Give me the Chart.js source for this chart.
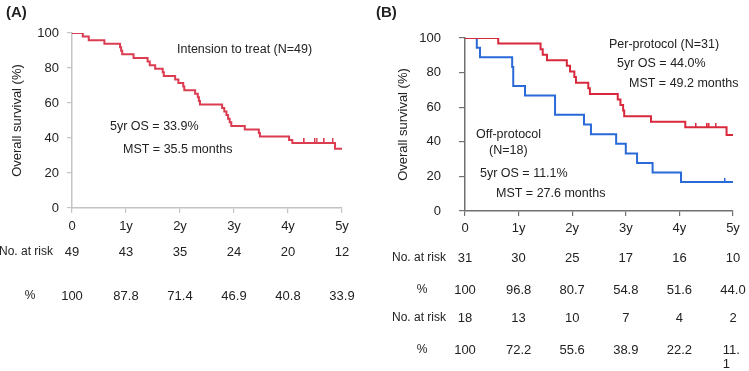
<!DOCTYPE html>
<html>
<head>
<meta charset="utf-8">
<script src="https://cdn.jsdelivr.net/npm/chart.js@4.4.0/dist/chart.umd.min.js"></script>
<style>
  body { margin: 0; background: #fff; }
  canvas { position: absolute; top: 0; }
  #chartA { left: 0; }
  #chartB { left: 370px; }
</style>
</head>
<body>
<canvas id="chartA" width="370" height="371"></canvas>
<canvas id="chartB" width="379" height="371"></canvas>
<script>
const yearLabels = ['0', '1y', '2y', '3y', '4y', '5y'];

// (A) intention to treat, N=49
const ittYears = [0, 0.20, 0.31, 0.60, 0.89, 0.91, 0.93, 1.14, 1.40, 1.44, 1.54, 1.68, 1.70, 1.91, 1.97, 2.06, 2.08, 2.28, 2.33, 2.35, 2.37, 2.78, 2.82, 2.86, 2.89, 2.92, 2.95, 3.20, 3.46, 3.48, 4.02, 4.08, 4.87, 5.0];
const ittSurv = [100, 98.0, 95.9, 93.9, 91.8, 89.8, 87.8, 85.7, 83.7, 81.6, 79.6, 77.6, 75.5, 73.5, 71.4, 69.4, 67.3, 65.3, 63.3, 61.2, 59.2, 57.1, 55.1, 53.1, 51.0, 49.0, 46.9, 44.9, 42.9, 40.8, 38.8, 37.2, 33.9, 33.9];
const ittCensorYears = [4.30, 4.50, 4.53, 4.67, 4.83];
const ittCensorSurv = [37.2, 37.2, 37.2, 37.2, 37.2];
const ittAtRisk = ['49', '43', '35', '24', '20', '12'];
const ittPct = ['100', '87.8', '71.4', '46.9', '40.8', '33.9'];

// (B) per-protocol, N=31
const ppYears = [0, 0.62, 1.41, 1.45, 1.53, 1.90, 1.96, 2.04, 2.07, 2.30, 2.33, 2.85, 2.90, 2.95, 2.97, 3.47, 4.11, 4.88, 5.0];
const ppSurv = [100, 96.8, 93.5, 90.3, 87.1, 83.9, 80.6, 77.4, 74.2, 71.0, 67.7, 64.5, 61.3, 58.1, 54.8, 51.6, 48.4, 44.0, 44.0];
const ppCensorYears = [4.31, 4.52, 4.55, 4.68];
const ppCensorSurv = [48.4, 48.4, 48.4, 48.4];
const ppAtRisk = ['31', '30', '25', '17', '16', '10'];
const ppPct = ['100', '96.8', '80.7', '54.8', '51.6', '44.0'];

// (B) off-protocol, N=18
const offYears = [0, 0.22, 0.28, 0.88, 0.90, 1.12, 1.68, 2.22, 2.35, 2.82, 3.00, 3.21, 3.50, 4.03, 5.0];
const offSurv = [100, 94.4, 88.9, 83.3, 72.2, 66.7, 55.6, 50.0, 44.4, 38.9, 33.3, 27.8, 22.2, 16.7, 16.7];
const offCensorYears = [4.85];
const offCensorSurv = [16.7];
const offAtRisk = ['18', '13', '10', '7', '4', '2'];
const offPct = ['100', '72.2', '55.6', '38.9', '22.2', '11.1'];

const FAMILY = '"Liberation Sans", Arial, sans-serif';
const TEXT = '#222';

function points(xs, ys) {
  return xs.map((x, i) => ({ x: x, y: ys[i] }));
}

// small vertical tick that sits on top of the curve
function tickMark(color) {
  const c = document.createElement('canvas');
  c.width = 2;
  c.height = 9;
  const g = c.getContext('2d');
  g.fillStyle = color;
  g.fillRect(0, 0, 1.5, 5);
  return c;
}

function curve(xs, ys, color) {
  return {
    type: 'line',
    data: points(xs, ys),
    borderColor: color,
    borderWidth: 2,
    pointRadius: 0,
    stepped: 'before',
    fill: false
  };
}

function censor(xs, ys, color) {
  return {
    type: 'scatter',
    data: points(xs, ys),
    pointStyle: tickMark(color),
    pointRadius: 4,
    showLine: false
  };
}

// draws panel letter, notes and the at-risk table
function textPlugin(notes, rows) {
  return {
    id: 'texts',
    afterDraw(chart) {
      const ctx = chart.ctx;
      const xs = chart.scales.x;
      ctx.save();
      ctx.fillStyle = TEXT;
      ctx.textBaseline = 'middle';
      notes.forEach(n => {
        ctx.font = n.font || '12.5px ' + FAMILY;
        ctx.textAlign = 'left';
        ctx.fillText(n.text, n.x, n.y);
      });
      rows.forEach(r => {
        ctx.font = '12px ' + FAMILY;
        ctx.textAlign = r.align;
        ctx.fillText(r.label, r.lx, r.y);
        ctx.font = '13px ' + FAMILY;
        r.values.forEach((v, i) => {
          const x = xs.getPixelForValue(i);
          const w = ctx.measureText(v).width;
          if (r.wrapLast && i === r.values.length - 1) {
            ctx.textAlign = 'left';
            ctx.fillText(v.slice(0, 3), x - w / 2 + 2, r.y);
            ctx.fillText(v.slice(3), x - w / 2 + 2, r.y + 14);
          } else {
            ctx.textAlign = 'center';
            ctx.fillText(v, x, r.y);
          }
        });
      });
      ctx.restore();
    }
  };
}

function makeOptions(pad, yWidth, xHeight, axisColor, yTick, xTick) {
  const tickFont = { family: FAMILY, size: 13 };
  return {
    responsive: false,
    animation: false,
    layout: { padding: pad },
    plugins: { legend: { display: false }, tooltip: { enabled: false } },
    scales: {
      x: {
        type: 'linear', min: 0, max: 5,
        border: { color: axisColor, width: 1.5 },
        grid: { drawOnChartArea: false, tickLength: xTick.len, color: axisColor, lineWidth: 1.2 },
        ticks: { stepSize: 1, padding: xTick.pad, color: TEXT, font: tickFont, callback: v => yearLabels[v] },
        afterFit: s => { s.height = xHeight; }
      },
      y: {
        min: 0, max: 100,
        border: { color: axisColor, width: 1.5 },
        grid: { drawOnChartArea: false, tickLength: yTick.len, color: axisColor, lineWidth: 1.2 },
        ticks: { stepSize: 10, padding: yTick.pad, color: TEXT, font: tickFont, callback: v => (v % 20 === 0 ? v : '') },
        title: { display: true, text: 'Overall survival (%)', color: TEXT, padding: 0, font: { family: FAMILY, size: 13 } },
        afterFit: s => { s.width = yWidth; }
      }
    }
  };
}

new Chart(document.getElementById('chartA'), {
  type: 'line',
  data: {
    datasets: [
      curve(ittYears, ittSurv, '#dc3c50'),
      censor(ittCensorYears, ittCensorSurv, '#dc3c50')
    ]
  },
  options: makeOptions({ left: 10, top: 33, right: 28, bottom: 0 }, 62, 163, '#c4c4c4', { len: 5, pad: 8 }, { len: 5, pad: 6 }),
  plugins: [textPlugin([
    { text: '(A)', x: 6, y: 13, font: 'bold 15px ' + FAMILY },
    { text: 'Intension to treat (N=49)', x: 177, y: 50 },
    { text: '5yr OS = 33.9%', x: 110, y: 127 },
    { text: 'MST = 35.5 months', x: 123, y: 150 }
  ], [
    { label: 'No. at risk', lx: 53, align: 'right', y: 252, values: ittAtRisk },
    { label: '%', lx: 30, align: 'center', y: 296, values: ittPct }
  ])]
});

new Chart(document.getElementById('chartB'), {
  type: 'line',
  data: {
    datasets: [
      curve(ppYears, ppSurv, '#d8283c'),
      censor(ppCensorYears, ppCensorSurv, '#d8283c'),
      curve(offYears, offSurv, '#2a6ad8'),
      censor(offCensorYears, offCensorSurv, '#2a6ad8')
    ]
  },
  options: makeOptions({ left: 26, top: 38, right: 16, bottom: 0 }, 69, 160, '#707070', { len: 6, pad: 18 }, { len: 5, pad: 5 }),
  plugins: [textPlugin([
    { text: '(B)', x: 6, y: 13, font: 'bold 15px ' + FAMILY },
    { text: 'Per-protocol (N=31)', x: 239, y: 45 },
    { text: '5yr OS = 44.0%', x: 247, y: 64 },
    { text: 'MST = 49.2 months', x: 259, y: 84 },
    { text: 'Off-protocol', x: 106, y: 135 },
    { text: '(N=18)', x: 119, y: 151 },
    { text: '5yr OS = 11.1%', x: 110, y: 174 },
    { text: 'MST = 27.6 months', x: 126, y: 194 }
  ], [
    { label: 'No. at risk', lx: 76, align: 'right', y: 258, values: ppAtRisk },
    { label: '%', lx: 52, align: 'center', y: 290, values: ppPct },
    { label: 'No. at risk', lx: 76, align: 'right', y: 318, values: offAtRisk },
    { label: '%', lx: 52, align: 'center', y: 350, values: offPct, wrapLast: true }
  ])]
});
</script>
</body>
</html>
